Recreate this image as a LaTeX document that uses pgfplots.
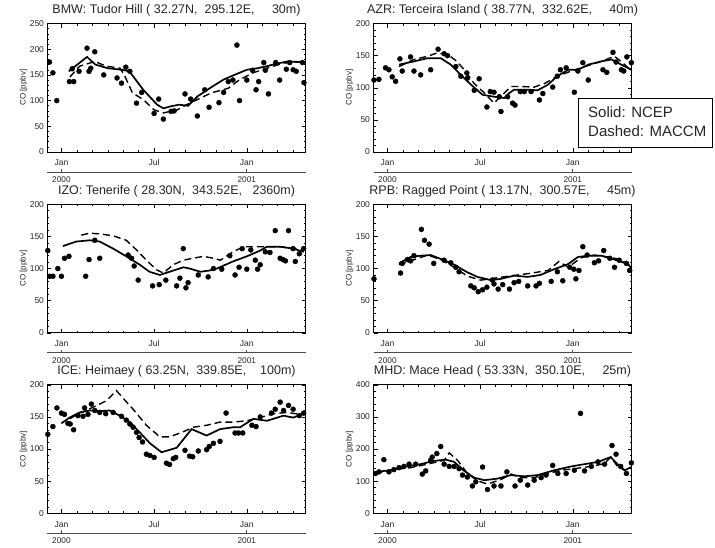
\documentclass[border=0pt]{standalone}
\usepackage{pgfplots}
\pgfplotsset{compat=1.18}
\usepackage{fontspec}
\setmainfont{Liberation Sans}
\pgfplotsset{
 panel/.style={
  scale only axis, width=258pt, height=128.5pt, anchor=south west,
  xmin=-0.9, xmax=15.8, ymin=0,
  xtick={0,6,12}, xticklabels={Jan,Jul,Jan},
  minor xtick={1,2,3,4,5,7,8,9,10,11,13,14,15},
  minor y tick num=4,
  major tick length=4pt, minor tick length=2pt,
  tick style={black, line width=0.5pt},
  axis line style={line width=0.8pt},
  tick label style={font=\fontsize{8.5}{10}\selectfont, text=black!85},
  xticklabel style={anchor=base, yshift=-14pt},
  ylabel={CO [ppbv]},
  ylabel style={at={([xshift=-24pt]axis description cs:0,0.5)}, anchor=center, font=\fontsize{8}{9}\selectfont, text=black!85},
  title style={at={(axis description cs:0.5,1)}, anchor=base, yshift=4pt, inner sep=0pt, font=\fontsize{12.5}{14}\selectfont, text=black!85},
  clip mode=individual,
  /pgf/number format/assume math mode=true,
  scaled y ticks=false,
 },
 obs/.style={only marks, mark=*, mark size=2.5pt, black},
 ncep/.style={black, line width=1.7pt, mark=none},
 maccm/.style={black, line width=1.4pt, dash pattern=on 7pt off 4pt, mark=none},
}
\newcommand{\years}{%
 \draw[line width=0.8pt, black!70] ([yshift=-20pt]axis cs:-0.9,0) -- ([yshift=-20pt]axis cs:15.8,0);
 \draw[line width=0.6pt, black!70] ([yshift=-20pt]axis cs:0,0) -- ([yshift=-17pt]axis cs:0,0);
 \draw[line width=0.6pt, black!70] ([yshift=-20pt]axis cs:12,0) -- ([yshift=-17pt]axis cs:12,0);
 \node[anchor=base, inner sep=0pt, font=\fontsize{8.3}{10}\selectfont, text=black!85] at ([yshift=-30.3pt]axis cs:0,0) {2000};
 \node[anchor=base, inner sep=0pt, font=\fontsize{8.3}{10}\selectfont, text=black!85] at ([yshift=-30.3pt]axis cs:12,0) {2001};
}
\begin{document}
\begin{tikzpicture}
% ---------------- BMW
\begin{axis}[panel, at={(47.5pt,395pt)}, ymax=250, ytick={0,50,100,150,200,250},
 title={BMW: Tudor Hill ( 32.27N,~~295.12E,~~~~~30m)}]
\addplot[obs] coordinates {(-0.77,175) (-0.55,154) (-0.3,100) (0.52,137) (0.8,137) (0.7,162) (1.14,157) (1.66,202) (1.79,157) (1.9,163) (2.16,195) (2.74,150) (3.6,144) (3.89,134) (4.17,165) (4.43,157) (4.86,95) (5.2,116) (6.0,75) (6.3,103) (6.6,64) (7.1,79) (7.3,80) (8.0,113) (8.37,103) (8.8,70) (9.28,121) (9.56,87) (10.2,96) (10.5,116) (10.8,137) (11.1,140) (11.36,208) (11.53,100) (12.0,140) (12.37,159) (12.6,121) (12.77,137) (13.1,174) (13.2,159) (13.4,113) (13.87,174) (14.13,140) (14.56,161) (14.78,174) (15.0,160) (15.2,157) (15.6,174) (15.7,135)};
\addplot[ncep] coordinates {(0.48,157) (1.66,185) (2.2,170) (3.0,163) (3.9,160) (4.4,157) (5.3,121) (6.2,92) (6.6,85) (7.1,89) (7.6,92) (8.2,90) (8.8,108) (9.7,126) (10.5,141) (11.2,150) (12.0,160) (12.7,163) (13.3,167) (13.96,172) (14.6,176) (15.7,175)};
\addplot[maccm] coordinates {(0.55,146) (1.18,167) (2.16,176) (2.9,167) (3.8,163) (4.1,148) (4.6,115) (5.3,102) (6.0,82) (6.6,76) (7.5,82) (8.1,92) (8.8,102) (9.7,115) (10.8,124) (11.5,140) (12.4,154) (13.3,163) (14.4,173) (15.7,176)};
\years
\end{axis}
% ---------------- AZR
\begin{axis}[panel, at={(373.5pt,395pt)}, ymax=200, ytick={0,50,100,150,200},
 title={AZR: Terceira Island ( 38.77N,~~332.62E,~~~~~40m)}]
\addplot[obs] coordinates {(-0.87,112) (-0.55,113) (-0.12,131) (0.1,128) (0.31,117) (0.53,110) (0.81,145) (0.96,126) (1.5,148) (1.72,126) (2.15,120) (2.8,128) (3.28,160) (3.67,153) (3.89,150) (4.43,133) (4.75,118) (5.14,123) (5.18,115) (5.62,96) (5.94,114) (6.44,70) (6.66,94) (6.9,93) (7.24,86) (7.35,63) (7.78,86) (8.1,76) (8.26,73) (8.6,94) (8.86,94) (9.3,94) (9.84,81) (10.06,91) (10.7,101) (11.0,118) (11.2,128) (11.57,131) (12.1,93) (12.33,126) (12.65,139) (13.0,112) (13.95,128) (14.2,124) (14.6,155) (14.8,140) (15.14,128) (15.3,126) (15.5,148) (15.79,139)};
\addplot[ncep] coordinates {(0.75,136) (1.72,141) (2.59,146) (3.45,146) (4.1,136) (4.75,120) (5.4,105) (6.16,89) (6.92,86) (7.57,84) (7.9,92) (8.2,97) (8.65,97) (9.08,97) (9.73,96) (10.4,105) (11.0,118) (11.7,128) (12.33,128) (13.0,136) (13.84,141) (14.5,144) (15.14,136) (15.79,128)};
\addplot[maccm] coordinates {(0.75,133) (1.72,144) (2.6,149) (3.2,154) (3.9,152) (4.5,141) (4.97,128) (5.6,107) (6.27,92) (6.9,76) (7.45,89) (8.0,102) (8.65,102) (9.5,101) (10.2,107) (11.0,118) (11.9,126) (12.8,133) (13.84,141) (14.7,149) (15.36,136) (15.79,126)};
\years
\end{axis}
% ---------------- IZO
\begin{axis}[panel, at={(47.5pt,214.2pt)}, ymax=200, ytick={0,50,100,150,200},
 title={IZO: Tenerife ( 28.30N,~~343.52E,~~~2360m)}]
\addplot[obs] coordinates {(-0.88,128) (-0.77,88) (-0.55,88) (-0.23,100) (0.0,88) (0.2,116) (0.49,119) (1.57,88) (1.79,114) (2.16,144) (2.48,116) (4.32,121) (4.54,116) (4.71,104) (4.97,82) (5.9,73) (6.33,75) (6.76,82) (7.46,73) (7.67,85) (7.89,131) (8.06,70) (8.2,78) (8.86,90) (9.5,87) (9.84,100) (10.38,99) (10.9,120) (11.24,90) (11.5,102) (11.7,131) (12.0,99) (12.26,129) (12.55,113) (12.7,99) (12.87,106) (13.2,126) (13.5,125) (13.84,159) (14.16,116) (14.34,114) (14.5,112) (14.7,159) (15.0,131) (15.14,111) (15.4,123) (15.68,131)};
\addplot[ncep] coordinates {(0.1,135) (0.96,142) (1.83,144) (2.48,142) (3.35,131) (4.2,119) (5.07,106) (5.7,95) (6.37,90) (7.0,95) (7.9,102) (8.3,100) (9.0,95) (9.6,97) (10.06,100) (11.1,111) (12.0,119) (12.87,128) (13.3,134) (14.16,134) (15.0,131) (15.68,126)};
\addplot[maccm] coordinates {(1.29,152) (1.83,155) (2.48,154) (3.35,151) (4.2,144) (4.86,129) (5.5,113) (6.16,98) (6.6,93) (7.24,106) (7.9,113) (8.5,116) (9.2,119) (9.84,116) (10.3,113) (11.1,126) (11.8,134) (12.87,134) (14.16,134) (15.0,131) (15.68,129)};
\years
\end{axis}
% ---------------- RPB
\begin{axis}[panel, at={(373.5pt,214.2pt)}, ymax=200, ytick={0,50,100,150,200},
 title={RPB: Ragged Point ( 13.17N,~~300.57E,~~~~~45m)}]
\addplot[obs] coordinates {(-0.87,84) (0.85,93) (0.96,108) (1.29,114) (1.5,112) (1.72,120) (2.2,161) (2.4,144) (2.7,138) (3.0,108) (3.67,113) (4.1,109) (4.43,102) (4.64,95) (5.4,73) (5.62,70) (5.88,64) (6.16,67) (6.44,71) (6.8,82) (6.9,76) (7.17,68) (7.46,75) (7.9,68) (8.2,78) (8.5,80) (9.08,73) (9.62,73) (9.84,77) (10.6,80) (11.0,95) (11.35,81) (11.8,102) (12.07,99) (12.2,84) (12.4,97) (12.65,134) (12.93,121) (13.4,109) (13.67,112) (14.0,128) (14.4,116) (14.7,102) (15.0,113) (15.47,108) (15.68,97) (15.84,98)};
\addplot[ncep] coordinates {(0.75,108) (1.5,118) (2.15,120) (2.8,121) (3.67,113) (4.32,106) (5.19,94) (5.83,87) (6.7,82) (7.35,84) (8.2,89) (9.08,87) (9.9,90) (10.8,99) (11.7,107) (12.33,118) (12.98,120) (13.84,120) (14.7,114) (15.57,107) (15.84,99)};
\addplot[maccm] coordinates {(0.75,106) (1.5,112) (2.6,121) (3.45,114) (4.32,102) (5.19,88) (6.05,82) (6.9,85) (7.8,88) (9.08,92) (10.4,97) (11.1,111) (11.7,102) (12.55,117) (13.4,121) (14.3,118) (15.1,114) (15.84,102)};
\years
\end{axis}
% ---------------- ICE
\begin{axis}[panel, at={(47.5pt,33.7pt)}, ymax=200, ytick={0,50,100,150,200},
 title={ICE: Heimaey ( 63.25N,~~339.85E,~~~~100m)}]
\addplot[obs] coordinates {(-0.88,123) (-0.55,135) (-0.29,164) (0,156) (0.2,154) (0.42,140) (0.57,139) (0.79,130) (1.07,152) (1.4,151) (1.5,164) (1.72,154) (1.94,170) (2.16,160) (2.48,157) (2.87,155) (3.35,157) (3.89,151) (4.2,145) (4.43,139) (4.64,134) (4.86,126) (5.03,118) (5.25,111) (5.5,92) (5.73,90) (6.0,87) (6.8,78) (7.0,76) (7.24,85) (7.4,87) (8.0,98) (8.3,89) (8.5,88) (8.86,97) (9.4,99) (9.57,104) (9.84,109) (10.27,112) (10.66,156) (11.24,125) (11.46,125) (11.74,125) (12.33,137) (12.6,135) (12.87,150) (13.6,156) (13.84,162) (14.16,173) (14.38,160) (14.7,168) (15.0,162) (15.4,152) (15.68,156)};
\addplot[ncep] coordinates {(0.0,140) (0.53,149) (1.18,157) (1.83,160) (2.48,159) (3.13,160) (3.78,152) (4.43,142) (5.07,126) (5.73,109) (6.48,95) (7.46,102) (8.43,131) (9.4,121) (10.27,131) (11.14,134) (11.57,134) (12.43,147) (13.3,144) (14.38,152) (15.0,149) (15.68,155)};
\addplot[maccm] coordinates {(0.53,147) (1.18,156) (2.05,165) (2.9,175) (3.56,191) (4.0,179) (4.64,162) (5.5,137) (6.37,119) (7.0,119) (7.8,126) (8.54,134) (9.4,137) (10.27,142) (11.14,142) (12.0,144) (12.87,149) (13.7,155) (14.6,157) (15.46,154)};
\years
\end{axis}
% ---------------- MHD
\begin{axis}[panel, at={(373.5pt,33.7pt)}, ymax=400, ytick={0,100,200,300,400},
 title={MHD: Mace Head ( 53.33N,~~350.10E,~~~~~25m)}]
\addplot[obs] coordinates {(-0.77,124) (-0.55,129) (-0.23,167) (0.1,129) (0.42,136) (0.75,142) (1.07,146) (1.4,153) (1.83,153) (2.26,122) (2.48,132) (2.8,165) (2.9,175) (3.2,186) (3.45,208) (3.67,153) (4.0,146) (4.32,146) (4.64,139) (4.86,119) (5.18,113) (5.5,85) (5.72,98) (6.16,144) (6.48,74) (6.9,85) (7.35,85) (7.73,129) (8.26,85) (8.6,103) (9.08,88) (9.5,103) (9.95,111) (10.27,119) (10.7,149) (11.03,124) (11.57,124) (12.1,134) (12.5,311) (12.76,132) (13.2,146) (13.63,160) (14.06,153) (14.54,211) (14.8,184) (15.1,146) (15.47,124) (15.79,157)};
\addplot[ncep] coordinates {(-0.77,129) (0.2,134) (1.29,146) (2.15,153) (3.0,163) (3.78,167) (4.32,160) (4.97,132) (5.62,111) (6.27,103) (7.13,108) (8.0,119) (8.86,115) (9.73,119) (10.8,134) (11.9,146) (12.76,153) (13.63,160) (14.45,175) (14.9,153) (15.36,134) (15.79,144)};
\addplot[maccm] coordinates {(-0.77,124) (0.42,136) (1.5,142) (2.59,153) (3.67,165) (4.0,188) (4.54,165) (5.18,124) (5.83,101) (6.48,91) (7.35,105) (8.0,122) (8.65,111) (9.5,111) (10.4,124) (11.25,134) (12.1,139) (13.2,146) (14.06,155) (14.45,175) (14.9,146) (15.36,134)};
\years
\end{axis}
% ---------------- legend box
\draw[line width=0.6pt, fill=white] (578pt,400pt) rectangle (712pt,449pt);
\node[anchor=base west, font=\fontsize{15}{17}\selectfont, text=black!85, inner sep=0pt] at (588pt,429pt) {Solid: NCEP};
\node[anchor=base west, font=\fontsize{15}{17}\selectfont, text=black!85, inner sep=0pt] at (588pt,410pt) {Dashed: MACCM};
\pgfresetboundingbox
\path[use as bounding box] (0,0) rectangle (715pt,547pt);
\end{tikzpicture}
\end{document}
